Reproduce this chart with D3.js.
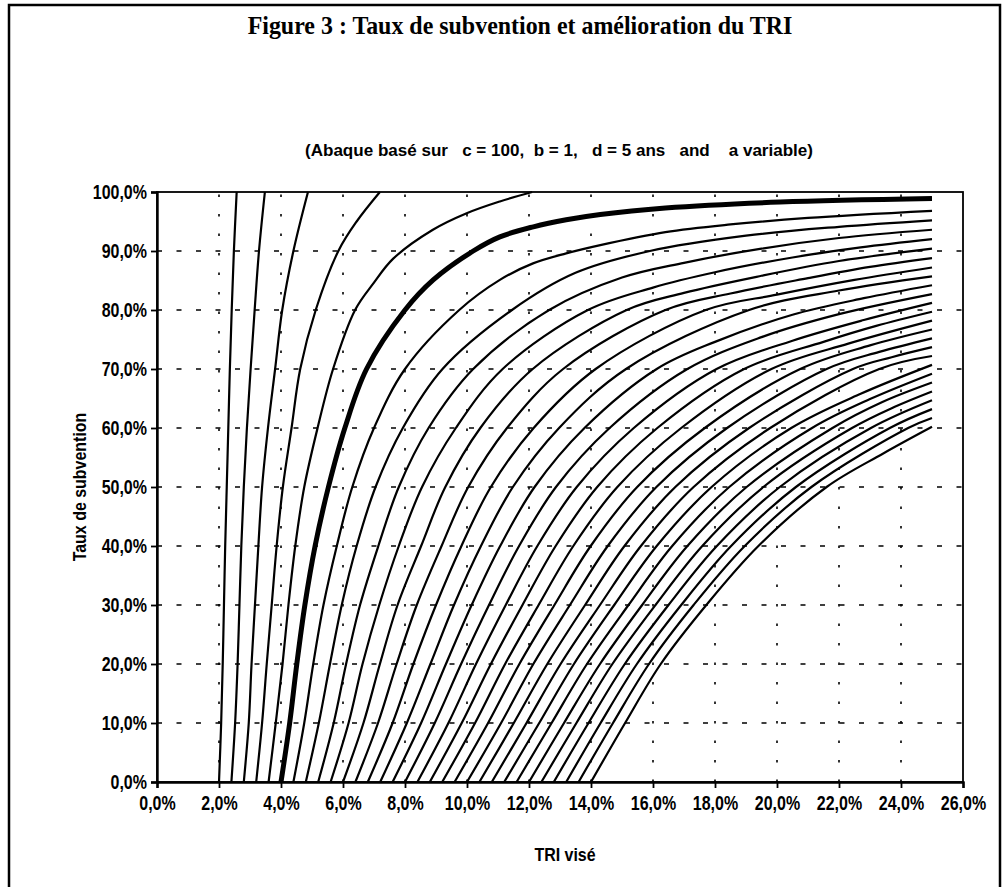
<!DOCTYPE html>
<html>
<head>
<meta charset="utf-8">
<script src="https://cdn.jsdelivr.net/npm/d3@7"></script>
<style>
  body { margin: 0; background: #fff; }
  svg { display: block; }
  .narrow { font-family: "Liberation Sans", Arial, sans-serif; font-weight: bold; }
</style>
</head>
<body>
<svg class="chart" width="1007" height="887"></svg>
<script>
/** DATA **/
// tick values of both axes (TRI visé in %, taux de subvention in %)
let xTicks = [0, 2, 4, 6, 8, 10, 12, 14, 16, 18, 20, 22, 24, 26];
let yTicks = [0, 10, 20, 30, 40, 50, 60, 70, 80, 90, 100];

// subsidy levels at which the TRI of each curve is read
let levels = [0, 10, 20, 30, 40, 50, 60, 70, 80, 90, 100];

// TRI (%) of each curve at the levels above, one row per value of a
let curveRows = [
	[2.0, 2.07, 2.12, 2.16, 2.20, 2.25, 2.30, 2.35, 2.41, 2.48, 2.57],
	[2.4, 2.52, 2.60, 2.66, 2.72, 2.80, 2.90, 3.02, 3.15, 3.29, 3.48],
	[2.8, 2.96, 3.05, 3.16, 3.27, 3.39, 3.58, 3.81, 4.04, 4.40, 4.87],
	[3.2, 3.39, 3.54, 3.70, 3.86, 4.06, 4.34, 4.62, 5.12, 5.85],
	[3.6, 3.83, 4.05, 4.24, 4.46, 4.75, 5.18, 5.68, 6.39],
	[4.0, 4.28, 4.51, 4.77, 5.10, 5.53, 6.06, 6.76, 8.00],
	[4.4, 4.75, 5.04, 5.37, 5.80, 6.30, 7.00, 8.00, 9.75],
	[4.8, 5.22, 5.58, 5.96, 6.44, 7.05, 7.93, 9.21, 11.45],
	[5.2, 5.70, 6.10, 6.55, 7.14, 7.80, 8.76, 10.2, 12.65],
	[5.6, 6.18, 6.63, 7.17, 7.80, 8.55, 9.64, 11.15, 13.9],
	[6.0, 6.66, 7.19, 7.76, 8.52, 9.30, 10.43, 12.12, 15.15],
	[6.4, 7.13, 7.73, 8.38, 9.18, 10.04, 11.29, 13.1, 16.4],
	[6.8, 7.60, 8.27, 9.00, 9.82, 10.77, 12.15, 14.15, 17.7],
	[7.2, 8.06, 8.82, 9.58, 10.45, 11.48, 12.97, 15.13, 19.1],
	[7.6, 8.52, 9.32, 10.15, 11.07, 12.18, 13.79, 16.12],
	[8.0, 8.96, 9.81, 10.71, 11.68, 12.87, 14.60, 17.11],
	[8.4, 9.40, 10.29, 11.25, 12.27, 13.54, 15.38, 18.05],
	[8.8, 9.83, 10.77, 11.79, 12.86, 14.20, 16.14, 18.94],
	[9.2, 10.26, 11.23, 12.31, 13.43, 14.85, 16.91, 19.82],
	[9.6, 10.68, 11.69, 12.82, 13.99, 15.49, 17.67, 20.75],
	[10.0, 11.10, 12.14, 13.32, 14.54, 16.11, 18.39, 21.6],
	[10.4, 11.51, 12.59, 13.81, 15.08, 16.72, 19.10, 22.45],
	[10.8, 11.92, 13.02, 14.29, 15.61, 17.31, 19.78, 23.3],
	[11.2, 12.33, 13.45, 14.75, 16.12, 17.89, 20.46],
	[11.6, 12.73, 13.87, 15.21, 16.62, 18.46, 21.13],
	[12.0, 13.13, 14.29, 15.65, 17.11, 19.02, 21.79],
	[12.4, 13.53, 14.69, 16.08, 17.59, 19.56, 22.42],
	[12.8, 13.92, 15.09, 16.50, 18.06, 20.09, 23.03],
	[13.2, 14.31, 15.48, 16.91, 18.52, 20.61, 23.64],
	[13.6, 14.71, 15.87, 17.31, 18.96, 21.11, 24.23],
	[14.0, 15.10, 16.25, 17.72, 19.40, 21.60]
];

// upper part of each curve as [TRI, subvention] points, up to TRI = 25 %
let curveTails = [
	[],
	[],
	[],
	[[6.44, 95], [7.19, 100]],
	[[6.98, 84.5], [7.62, 88.7], [8.9, 93.6], [9.99, 96.4], [11.06, 98.4], [12.1, 100]],
	[[8.91, 85.1], [10.2, 90], [11.06, 92.4], [12.14, 94.1], [13.2, 95.3], [14.3, 96.2], [16.4, 97.3], [20.1, 98.3], [25, 98.9]],
	[[11.06, 85.1], [12.13, 87.9], [13.2, 89.6], [14.3, 91.0], [16.4, 93.2], [18.5, 94.5], [21, 95.6], [25, 96.8]],
	[[13.5, 86.3], [15.9, 90.0], [19, 92.6], [22, 94.1], [25, 95.2]],
	[[15, 85.5], [17, 88.0], [19.5, 90.4], [22, 92.2], [25, 93.6]],
	[[16, 83.8], [18, 86.4], [20.5, 88.9], [22.7, 90.6], [25, 92.0]],
	[[17, 82.9], [19.5, 85.8], [22, 88.3], [25, 90.4]],
	[[18.5, 82.8], [21, 85.4], [23, 87.3], [25, 88.8]],
	[[20, 82.6], [22.5, 85.1], [25, 87.2]],
	[[22, 83.3], [25, 85.7]],
	[[18, 74.6], [20.5, 79.2], [22.8, 82.0], [25, 84.2]],
	[[19.5, 75.4], [22, 79.3], [25, 82.7]],
	[[20.5, 74.8], [22.8, 78.3], [25, 81.2]],
	[[21.5, 74.6], [23.2, 77.3], [25, 79.7]],
	[[22.3, 74.3], [25, 78.2]],
	[[23, 74.0], [25, 76.7]],
	[[23.3, 72.9], [25, 75.2]],
	[[23.7, 72.0], [25, 73.7]],
	[[25, 72.2]],
	[[22.7, 65.8], [25, 70.7]],
	[[23, 64.9], [25, 69.2]],
	[[23.4, 64.4], [25, 67.7]],
	[[23.8, 63.6], [25, 66.2]],
	[[25, 64.7]],
	[[25, 63.2]],
	[[25, 61.7]],
	[[23.4, 55.6], [25, 60.2]]
];

// the curve drawn heavier on the abaque (TRI 4 % without subsidy)
let boldCurve = 5;

/** CONSTANTS **/
let margin = { top: 192, right: 44, bottom: 105, left: 157 };
let width = 1007 - margin.left - margin.right;
let height = 887 - margin.top - margin.bottom;

let x = d3.scaleLinear().domain([0, 26]).range([0, width]);
let y = d3.scaleLinear().domain([0, 100]).range([height, 0]);

function pct(d) {
	return d.toFixed(1).replace('.', ',') + '%';
}

// squeeze a text to a share of its natural width (narrow face look)
function squeeze(sel, k) {
	sel.each(function() {
		let w = this.getComputedTextLength();
		d3.select(this).attr('textLength', w * k).attr('lengthAdjust', 'spacingAndGlyphs');
	});
}

let svg = d3.select('.chart');

// outer frame of the figure
svg.append('rect')
	.attr('x', 9)
	.attr('y', 5)
	.attr('width', 991)
	.attr('height', 900)
	.attr('fill', 'none')
	.attr('stroke', '#000')
	.attr('stroke-width', 2.5);

// title
svg.append('text')
	.attr('x', 520)
	.attr('y', 34)
	.attr('text-anchor', 'middle')
	.style('font', 'bold 26px "Liberation Serif", serif')
	.text('Figure 3 : Taux de subvention et amélioration du TRI')
	.call(squeeze, 0.92);

// subtitle
svg.append('text')
	.attr('class', 'narrow')
	.attr('x', 559)
	.attr('y', 156)
	.attr('text-anchor', 'middle')
	.style('font-size', '17px')
	.style('white-space', 'pre')
	.attr('textLength', 508)
	.attr('lengthAdjust', 'spacingAndGlyphs')
	.text('(Abaque basé sur   c = 100,  b = 1,   d = 5 ans   and    a variable)');

let g = svg.append('g').attr('transform', 'translate(' + margin.left + ',' + margin.top + ')');

// grid
g.selectAll('.hgrid')
	.data(yTicks.filter(function(d) { return d > 0 && d < 100; }))
	.enter()
	.append('line')
	.attr('class', 'hgrid')
	.attr('x1', 0)
	.attr('x2', width)
	.attr('y1', function(d) { return y(d); })
	.attr('y2', function(d) { return y(d); })
	.attr('stroke', '#000')
	.attr('stroke-width', 1.6)
	.attr('stroke-dasharray', '5,14.5');

g.selectAll('.vgrid')
	.data(xTicks.filter(function(d) { return d > 0 && d < 26; }))
	.enter()
	.append('line')
	.attr('class', 'vgrid')
	.attr('x1', function(d) { return x(d); })
	.attr('x2', function(d) { return x(d); })
	.attr('y1', height)
	.attr('y2', 0)
	.attr('stroke', '#000')
	.attr('stroke-width', 1.6)
	.attr('stroke-dasharray', '2.5,17');

// plot frame (top and right)
g.append('rect')
	.attr('x', 0)
	.attr('y', 0)
	.attr('width', width)
	.attr('height', height)
	.attr('fill', 'none')
	.attr('stroke', '#000')
	.attr('stroke-width', 1.8);

// curves
let line = d3.line()
	.x(function(d) { return x(d[0]); })
	.y(function(d) { return y(d[1]); })
	.curve(d3.curveCatmullRom.alpha(0.5));

let curves = curveRows.map(function(row, i) {
	let pts = row.map(function(v, j) { return [v, levels[j]]; });
	return pts.concat(curveTails[i]);
});

g.selectAll('.curve')
	.data(curves)
	.enter()
	.append('path')
	.attr('class', 'curve')
	.attr('d', line)
	.attr('fill', 'none')
	.attr('stroke', '#000')
	.attr('stroke-linejoin', 'round')
	.attr('stroke-width', function(d, i) { return i === boldCurve ? 5 : 2.2; });

// axes
let xAxis = g.append('g')
	.attr('transform', 'translate(0,' + height + ')')
	.call(d3.axisBottom(x).tickValues(xTicks).tickSize(6).tickPadding(8).tickFormat(pct));

let yAxis = g.append('g')
	.call(d3.axisLeft(y).tickValues(yTicks).tickSize(6).tickPadding(4).tickFormat(pct));

[xAxis, yAxis].forEach(function(a) {
	a.select('.domain').attr('stroke-width', 2.4);
	a.selectAll('.tick line').attr('stroke-width', 1.8);
	a.selectAll('.tick text')
		.attr('class', 'narrow')
		.style('font-size', '20px')
		.attr('fill', '#000')
		.call(squeeze, 0.8);
});

// axis titles
svg.append('text')
	.attr('class', 'narrow')
	.attr('transform', 'translate(86,' + (margin.top + height / 2) + ') rotate(-90)')
	.attr('text-anchor', 'middle')
	.style('font-size', '19px')
	.text('Taux de subvention')
	.call(squeeze, 0.84);

svg.append('text')
	.attr('class', 'narrow')
	.attr('x', 565)
	.attr('y', 861)
	.attr('text-anchor', 'middle')
	.style('font-size', '19px')
	.text('TRI visé')
	.call(squeeze, 0.84);
</script>
</body>
</html>
